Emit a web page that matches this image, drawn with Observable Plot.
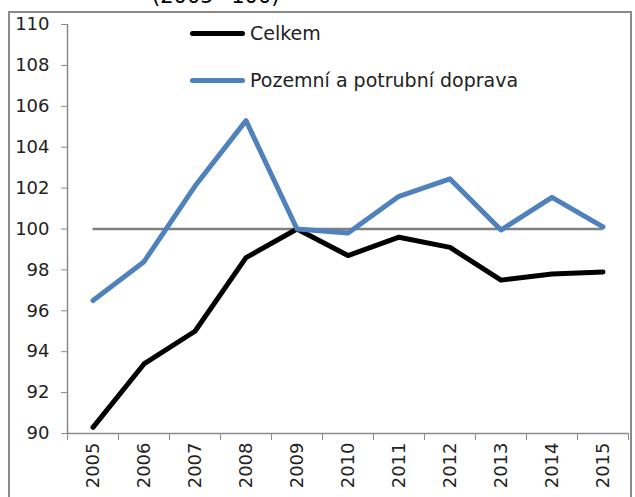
<!DOCTYPE html>
<html>
<head>
<meta charset="utf-8">
<script src="https://cdn.jsdelivr.net/npm/d3@7"></script>
<script src="https://cdn.jsdelivr.net/npm/@observablehq/plot@0.6"></script>
<style>
  html, body { margin: 0; padding: 0; background: #fff; overflow: hidden; width: 635px; height: 497px; }
  #wrap { position: relative; width: 635px; height: 497px; overflow: hidden; font-family: "DejaVu Sans", sans-serif; }
  #frame { position: absolute; left: 8px; top: 11px; width: 624px; height: 500px; border: 2px solid #8a8a8a; box-sizing: border-box; }
  #title { position: absolute; left: 152px; top: -16px; font-size: 21px; color: #000; white-space: nowrap; }
  #chart { position: absolute; left: 0; top: 0; }
  .leg { position: absolute; display: flex; align-items: center; font-size: 19px; color: #222; white-space: nowrap; }
  .leg span.sw { display: inline-block; width: 55px; height: 5px; border-radius: 3px; margin-right: 5px; }
</style>
</head>
<body>
<div id="wrap">
  <div id="frame"></div>
  <div id="title"></div>
  <div id="chart"></div>
  <div id="legend"></div>
</div>
<script>
const years = [2005, 2006, 2007, 2008, 2009, 2010, 2011, 2012, 2013, 2014, 2015];
const celkem = [90.3, 93.4, 95.0, 98.6, 100.0, 98.7, 99.6, 99.1, 97.5, 97.8, 97.9];
const pozemni = [96.5, 98.4, 102.1, 105.3, 100.0, 99.8, 101.6, 102.45, 99.95, 101.55, 100.1];
const seriesNames = ["Celkem", "Pozemní a potrubní doprava"];
const seriesColors = ["#000000", "#4F81BD"];
const yTicks = [90, 92, 94, 96, 98, 100, 102, 104, 106, 108, 110];
const baseline = 100;
const titleText = "(2005=100)";

document.getElementById("title").textContent = titleText;

const rows = [];
years.forEach((y, i) => rows.push({year: y, value: celkem[i], s: seriesNames[0]}));
years.forEach((y, i) => rows.push({year: y, value: pozemni[i], s: seriesNames[1]}));
const boundaries = years.map(y => y - 0.5).concat([years[years.length - 1] + 0.5]);

const axisColor = "#8a8a8a";
const chart = Plot.plot({
  width: 635,
  height: 497,
  marginLeft: 67,
  marginRight: 7,
  marginTop: 24,
  marginBottom: 64,
  style: { fontFamily: "DejaVu Sans, sans-serif", fontSize: "18px", color: "#222", background: "transparent", overflow: "visible" },
  x: { type: "linear", domain: [boundaries[0], boundaries[boundaries.length - 1]] },
  y: { domain: [90, 110] },
  color: { domain: seriesNames, range: seriesColors },
  marks: [
    Plot.axisY({ ticks: yTicks, tickSize: 6, tickPadding: 12, stroke: axisColor, label: null, tickFormat: d => String(d) }),
    Plot.axisX({ ticks: boundaries, tickSize: 7, stroke: axisColor, tickFormat: () => "", label: null }),
    Plot.axisX({ ticks: years, tickSize: 0, tickPadding: 9, tickRotate: -90, tickFormat: d => String(d), label: null }),
    Plot.ruleY([90], { stroke: axisColor, strokeWidth: 1.5 }),
    Plot.ruleX([boundaries[0]], { stroke: axisColor, strokeWidth: 1.5 }),
    Plot.ruleY([baseline], { x1: years[0], x2: years[years.length - 1], stroke: "#808080", strokeWidth: 2.5 }),
    Plot.line(rows, { x: "year", y: "value", z: "s", stroke: "s", strokeWidth: 5, strokeLinejoin: "round", strokeLinecap: "round" })
  ]
});
document.getElementById("chart").appendChild(chart);

const legend = document.getElementById("legend");
const legTops = [33, 80];
seriesNames.forEach((name, i) => {
  const d = document.createElement("div");
  d.className = "leg";
  d.style.left = "190px";
  d.style.top = (legTops[i] - 12) + "px";
  d.style.height = "24px";
  const sw = document.createElement("span");
  sw.className = "sw";
  sw.style.background = seriesColors[i];
  d.appendChild(sw);
  const t = document.createElement("span");
  t.textContent = name;
  d.appendChild(t);
  legend.appendChild(d);
});
</script>
</body>
</html>
